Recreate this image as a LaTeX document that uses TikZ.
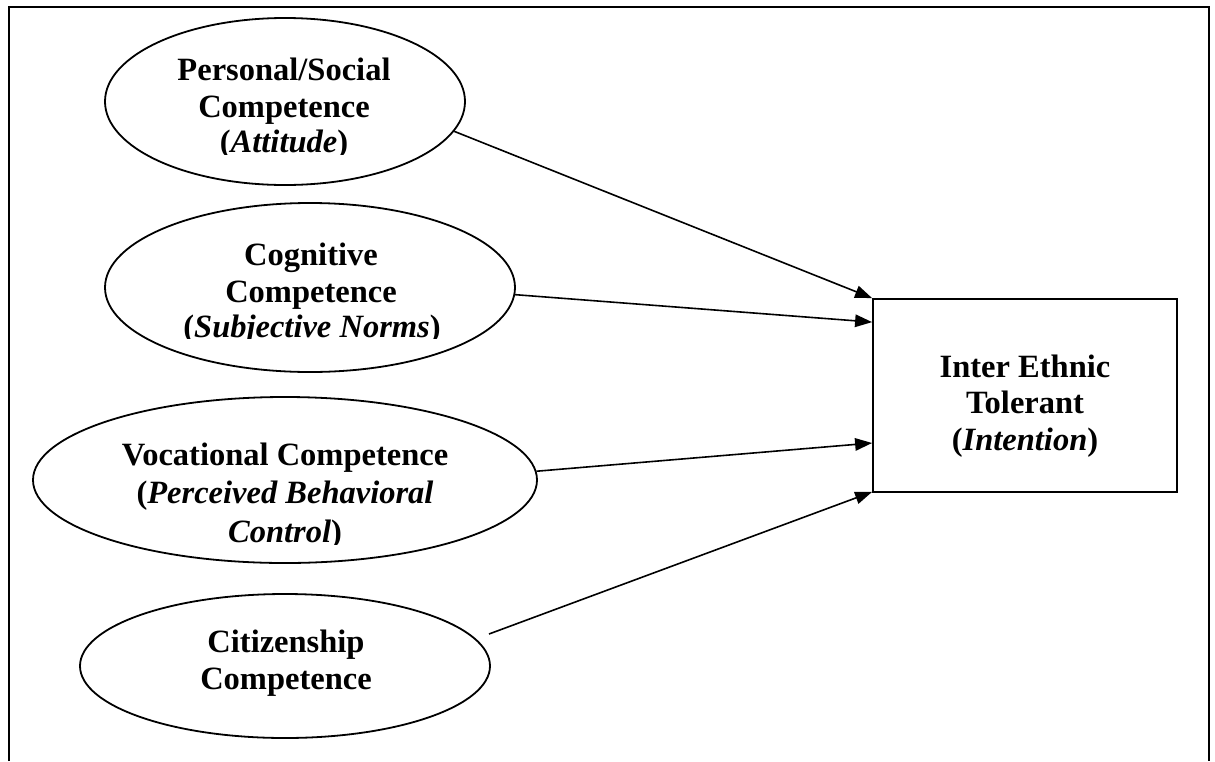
\documentclass[tikz,border=0pt]{standalone}
\usepackage{fontspec}
\setmainfont{Liberation Serif}
\usetikzlibrary{shapes.geometric,arrows.meta,calc}
\begin{document}
\begin{tikzpicture}[x=1pt,y=-1pt,
  oval/.style={draw,ellipse,line width=1.8pt,inner sep=0pt},
  lbl/.style={anchor=base,inner sep=0pt,font=\fontsize{32.5}{37}\selectfont\bfseries},
  conn/.style={line width=1.6pt,-{Triangle[length=17pt,width=12.5pt]}}]
\useasboundingbox (0,0) rectangle (1215,761);
\draw[line width=2pt] (9,761) -- (9,7) -- (1209,7) -- (1209,761);

\node[oval,minimum width=360pt,minimum height=167pt] (e1) at (285,101.5) {};
\node[oval,minimum width=410pt,minimum height=169pt] (e2) at (310,287.5) {};
\node[oval,minimum width=504pt,minimum height=166pt] (e3) at (285,480) {};
\node[oval,minimum width=410pt,minimum height=144pt] (e4) at (285,666) {};
\node[draw,line width=1.8pt,minimum width=304pt,minimum height=193pt,inner sep=0pt] (box) at (1025,395.5) {};

\begin{scope}
\clip (100,0) rectangle (470,154.5);
\node[lbl] (t1a) at (284,80) {Personal/Social};
\node[lbl] (t1b) at (284,117) {Competence};
\node[lbl] (t1c) at (284,152) {(\textit{Attitude})};
\end{scope}

\begin{scope}
\clip (100,200) rectangle (520,338.5);
\node[lbl] (t2a) at (311,265.7) {Cognitive};
\node[lbl] (t2b) at (311,302.7) {Competence};
\node[lbl] (t2c) at (312,337.7) {(\textit{Subjective Norms})};
\end{scope}

\begin{scope}
\clip (30,390) rectangle (540,544.5);
\node[lbl] (t3a) at (285,465) {Vocational Competence};
\node[lbl] (t3b) at (285,503) {(\textit{Perceived Behavioral}};
\node[lbl] (t3c) at (285,542) {\textit{Control})};
\end{scope}

\node[lbl] (t4a) at (286,652) {Citizenship};
\node[lbl] (t4b) at (286,689) {Competence};

\node[lbl] (t5a) at (1025,377) {Inter Ethnic};
\node[lbl] (t5b) at (1025,413) {Tolerant};
\node[lbl] (t5c) at (1025,450) {(\textit{Intention})};

\coordinate (c4) at (489,634);
\draw[conn] (e1.-10.5) -- (box.north west);
\draw[conn] (e2.-2.8) -- ($(box.north west)+(0,24)$);
\draw[conn] (e3.2.8) -- ($(box.west)+(0,47.5)$);
\draw[conn] (c4) -- ($(box.south west)+(0,-1)$);
\end{tikzpicture}
\end{document}
